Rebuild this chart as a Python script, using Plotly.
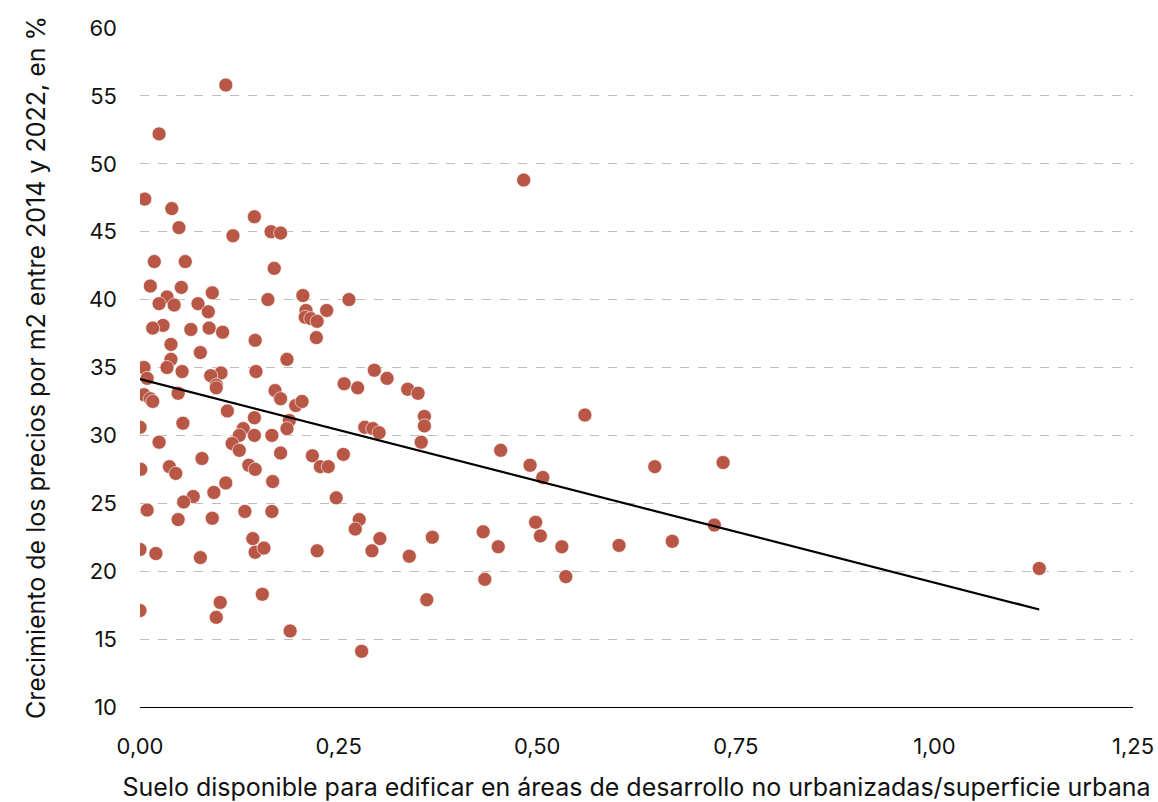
import numpy as np
import plotly.graph_objects as go

# Suelo disponible / superficie urbana
suelo = [0.108,0.024,0.006,0.040,0.049,0.117,0.144,0.165,0.177,0.018,
         0.057,0.169,0.013,0.052,0.091,0.034,0.024,0.073,0.043,0.086,
         0.161,0.205,0.263,0.209,0.208,0.215,0.223,0.235,0.029,0.016,
         0.064,0.087,0.104,0.222,0.039,0.145,0.076,0.039,0.185,0.000,
         0.005,0.034,0.053,0.102,0.089,0.146,0.009,0.096,0.096,0.170,
         0.257,0.274,0.048,0.005,0.337,0.350,0.177,0.013,0.016,0.196,
         0.204,0.295,0.311,0.110,0.188,0.144,0.185,0.560,0.358,0.358,
         0.000,0.054,0.130,0.283,0.293,0.301,0.166,0.125,0.144,0.116,
         0.024,0.354,0.125,0.454,0.078,0.177,0.256,0.217,0.734,0.001,
         0.037,0.137,0.145,0.227,0.237,0.491,0.648,0.045,0.507,0.108,
         0.167,0.067,0.055,0.247,0.009,0.132,0.166,0.048,0.091,0.276,
         0.498,0.271,0.723,0.432,0.504,0.302,0.368,0.142,0.670,0.603,
         0.451,0.531,0.000,0.020,0.145,0.156,0.223,0.292,0.339,0.076,
         1.132,0.434,0.536,0.154,0.361,0.101,0.000,0.096,0.189,0.279,
         0.483,0.093]

# Crecimiento de precios por m2 2014-2022 (%)
crecimiento = [55.8,52.2,47.4,46.7,45.3,44.7,46.1,45.0,44.9,42.8,
               42.8,42.3,41.0,40.9,40.5,40.2,39.7,39.7,39.6,39.1,
               40.0,40.3,40.0,39.2,38.7,38.6,38.4,39.2,38.1,37.9,
               37.8,37.9,37.6,37.2,36.7,37.0,36.1,35.6,35.6,35.0,
               35.0,35.0,34.7,34.6,34.4,34.7,34.2,33.7,33.5,33.3,
               33.8,33.5,33.1,33.0,33.4,33.1,32.7,32.7,32.5,32.2,
               32.5,34.8,34.2,31.8,31.1,31.3,30.5,31.5,31.4,30.7,
               30.6,30.9,30.5,30.6,30.5,30.2,30.0,30.0,30.0,29.4,
               29.5,29.5,28.9,28.9,28.3,28.7,28.6,28.5,28.0,27.5,
               27.7,27.8,27.5,27.7,27.7,27.8,27.7,27.2,26.9,26.5,
               26.6,25.5,25.1,25.4,24.5,24.4,24.4,23.8,23.9,23.8,
               23.6,23.1,23.4,22.9,22.6,22.4,22.5,22.4,22.2,21.9,
               21.8,21.8,21.6,21.3,21.4,21.7,21.5,21.5,21.1,21.0,
               20.2,19.4,19.6,18.3,17.9,17.7,17.1,16.6,15.6,14.1,
               48.8,25.8]

x_ticks = [0, 0.25, 0.5, 0.75, 1.0, 1.25]
x_ticklabels = ["0,00", "0,25", "0,50", "0,75", "1,00", "1,25"]
y_ticks = [10, 15, 20, 25, 30, 35, 40, 45, 50, 55, 60]

xa = np.array(suelo)
ya = np.array(crecimiento)
slope, intercept = np.polyfit(xa, ya, 1)
x_line = np.array([xa.min(), xa.max()])
y_line = intercept + slope * x_line

FONT = "Inter, Liberation Sans, Arial, sans-serif"

fig = go.Figure()
fig.add_trace(go.Scatter(
    x=suelo, y=crecimiento, mode="markers",
    marker=dict(size=14, color="#b85745", line=dict(width=0.6, color="white")),
    showlegend=False, hoverinfo="x+y",
))
fig.add_trace(go.Scatter(
    x=x_line, y=y_line, mode="lines",
    line=dict(color="black", width=2.2),
    showlegend=False, hoverinfo="skip",
))

fig.update_layout(
    width=1158, height=802,
    margin=dict(l=140, r=25, t=28, b=95, autoexpand=False),
    paper_bgcolor="white", plot_bgcolor="white",
    font=dict(family=FONT, size=22, color="#111111"),
    xaxis=dict(
        range=[0, 1.25], tickvals=x_ticks, ticktext=x_ticklabels,
        showgrid=False, zeroline=False, showline=True,
        linecolor="black", linewidth=1, ticks="",
        ticklabelstandoff=20, automargin=False,
        tickfont=dict(size=22),
        title=dict(text="Suelo disponible para edificar en áreas de desarrollo no urbanizadas/superficie urbana",
                   font=dict(size=25), standoff=21),
    ),
    yaxis=dict(
        range=[10, 60], tickvals=y_ticks,
        showgrid=True, gridcolor="#bdbdbd", griddash="dash", gridwidth=1,
        zeroline=False, showline=False, ticks="",
        ticklabelstandoff=22, automargin=False,
        tickfont=dict(size=22),
        title=dict(text="Crecimiento de los precios por m2 entre 2014 y 2022, en %",
                   font=dict(size=25), standoff=36),
    ),
)

fig.write_html("out.html")
